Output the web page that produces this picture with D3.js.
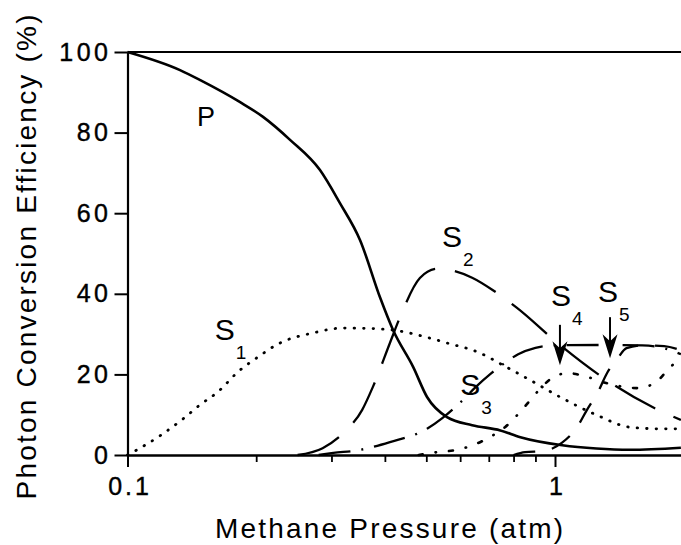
<!DOCTYPE html>
<html>
<head>
<meta charset="utf-8">
<script src="https://cdn.jsdelivr.net/npm/d3@7"></script>
<style>
  body { margin: 0; background: #fff; }
  svg text { font-family: "Liberation Sans", Arial, sans-serif; fill: #000; }
</style>
</head>
<body>
<div id="chart"></div>
<script>
// pressure (atm) / efficiency (%)
const pP  = [0.1, 0.1327, 0.148, 0.183, 0.2075, 0.24, 0.282, 0.314, 0.35, 0.39, 0.418, 0.466, 0.502, 0.559, 0.64, 0.745, 0.83, 1.04, 1.25, 1.5, 1.97];
const vP  = [100, 95.5, 93, 87.6, 83.9, 78.2, 70.7, 62.5, 53.3, 39, 31, 21.8, 14.4, 9.4, 7.4, 6.1, 4.4, 2.4, 1.6, 1.3, 1.8];

const pS1 = [0.1, 0.107, 0.12, 0.135, 0.148, 0.162, 0.183, 0.2, 0.2274, 0.272, 0.319, 0.37, 0.418, 0.51, 0.559, 0.668, 0.755, 0.874, 1.027, 1.253, 1.496, 1.76, 1.97];
const vS1 = [0, 1.7, 5, 9, 12.5, 15.5, 21, 24, 27.8, 30.3, 31.5, 31.4, 31, 29, 27.8, 25.3, 22.3, 18.6, 14.4, 9.9, 6.9, 6.5, 6.5];

const pS2 = [0.25, 0.286, 0.32, 0.354, 0.375, 0.411, 0.434, 0.483, 0.53, 0.568, 0.64, 0.716, 0.815, 1.027, 1.32, 1.69, 1.97];
const vS2 = [0, 1.7, 5.5, 11.2, 16.9, 27.8, 34.2, 43.9, 46.2, 45.9, 44, 40.9, 36.5, 27.3, 18.6, 11.9, 8.7];

const pS3 = [0.28, 0.303, 0.347, 0.411, 0.502, 0.546, 0.6, 0.653, 0.71, 0.764, 0.82, 0.9, 1.0, 1.3, 1.6, 1.8, 1.97];
const vS3 = [0, 0.5, 1.2, 3.2, 6.5, 9.2, 13, 16.9, 20.3, 22.9, 25, 26.6, 27.2, 27.3, 27.2, 26.5, 25];

const pS4 = [0.48, 0.53, 0.583, 0.645, 0.705, 0.764, 0.837, 0.908, 0.984, 1.072, 1.188, 1.294, 1.45, 1.555, 1.714, 1.86, 1.97];
const vS4 = [0, 0.7, 1.2, 2.5, 4.5, 6.9, 11.2, 15.6, 19.1, 20.3, 19.4, 18.1, 16.9, 16.6, 17.9, 21.8, 24];

const pS5 = [0.8, 0.851, 0.94, 1.037, 1.126, 1.188, 1.26, 1.323, 1.403, 1.47, 1.6, 1.8, 1.97];
const vS5 = [0, 0.7, 1, 3, 6.9, 11.2, 15.6, 20.3, 24.1, 26.5, 27.2, 27, 26];

const yTicks = [0, 20, 40, 60, 80, 100];
const xMajor = [0.1, 1];
const xMinor = [0.2, 0.3, 0.4, 0.5, 0.6, 0.7, 0.8, 0.9];

// curve labels: [name, subscript, pressure, value]
const labels = [
  ["P", "", 0.1455, 81.6],
  ["S", "1", 0.160, 28.5],
  ["S", "2", 0.544, 51.6],
  ["S", "3", 0.600, 14.9],
  ["S", "4", 0.979, 37],
  ["S", "5", 1.26, 38]
];
// arrows for S4 and S5: [pressure, from value, to value]
const arrows = [
  [1.027, 32.3, 22.3],
  [1.345, 34.2, 24]
];

const width = 681, height = 545;
const svg = d3.select("#chart").append("svg")
  .attr("width", width)
  .attr("height", height);

const x = d3.scaleLog().domain([0.1, 2]).range([127.5, 127.5 + 427.5 * Math.log10(20)]);
const y = d3.scaleLinear().domain([0, 100]).range([455, 52]);

// top border line at 100%
svg.append("line")
  .attr("x1", x(0.1)).attr("x2", width)
  .attr("y1", y(100)).attr("y2", y(100))
  .attr("stroke", "#000").attr("stroke-width", 2.2);

// y axis
const yAxis = svg.append("g")
  .attr("transform", `translate(${x(0.1)},0)`)
  .call(d3.axisLeft(y).tickValues(yTicks).tickSize(13).tickSizeOuter(0).tickPadding(3));
yAxis.select(".domain").attr("stroke-width", 2.2);
yAxis.selectAll(".tick line").attr("stroke-width", 2);
yAxis.selectAll(".tick text")
  .attr("font-size", 25).attr("letter-spacing", 3.5).attr("fill", "#000")
  .attr("stroke", "#000").attr("stroke-width", 0.4)
  .attr("font-family", "Liberation Sans, Arial, sans-serif");

// x axis, minor ticks
const xMin = svg.append("g")
  .attr("transform", `translate(0,${y(0)})`)
  .call(d3.axisBottom(x).tickValues(xMinor).tickSize(7).tickSizeOuter(0).tickFormat(""));
xMin.select(".domain").attr("stroke-width", 2.4);
xMin.selectAll(".tick line").attr("stroke-width", 1.8);

// x axis, major ticks
const xMaj = svg.append("g")
  .attr("transform", `translate(0,${y(0)})`)
  .call(d3.axisBottom(x).tickValues(xMajor).tickSize(12).tickSizeOuter(0).tickPadding(10)
    .tickFormat(d => d === 1 ? "1" : "0.1"));
xMaj.select(".domain").remove();
xMaj.selectAll(".tick line").attr("stroke-width", 2);
xMaj.selectAll(".tick text")
  .attr("font-size", 25).attr("letter-spacing", 3).attr("fill", "#000")
  .attr("stroke", "#000").attr("stroke-width", 0.4)
  .attr("font-family", "Liberation Sans, Arial, sans-serif")
  .attr("dx", 2);

// axis titles
svg.append("text")
  .attr("x", 389).attr("y", 538)
  .attr("text-anchor", "middle")
  .attr("font-size", 28)
  .attr("textLength", 348).attr("lengthAdjust", "spacing")
  .text("Methane Pressure (atm)");

svg.append("text")
  .attr("transform", "translate(36,257) rotate(-90)")
  .attr("text-anchor", "middle")
  .attr("font-size", 28)
  .attr("textLength", 485).attr("lengthAdjust", "spacing")
  .text("Photon Conversion Efficiency (%)");

// curves
const line = d3.line()
  .x(d => x(d[0]))
  .y(d => y(d[1]))
  .curve(d3.curveMonotoneX);

const series = [
  { p: pP,  v: vP,  w: 2.6, dash: null,          cap: "butt" },
  { p: pS1, v: vS1, w: 2.8, dash: "0.5,9",       cap: "round" },
  { p: pS2, v: vS2, w: 2.3, dash: "46,20",       cap: "butt" },
  { p: pS3, v: vS3, w: 2.3, dash: "32,11,2,11",  cap: "butt" },
  { p: pS4, v: vS4, w: 2.6, dash: "4,13,0.5,13", cap: "round" },
  { p: pS5, v: vS5, w: 2.3, dash: "22,17",       cap: "butt" }
];

const plot = svg.append("g");
series.forEach(s => {
  plot.append("path")
    .datum(s.p.map((p, i) => [p, s.v[i]]))
    .attr("d", line)
    .attr("fill", "none")
    .attr("stroke", "#000")
    .attr("stroke-width", s.w)
    .attr("stroke-linecap", s.cap)
    .attr("stroke-dasharray", s.dash);
});

// arrows
arrows.forEach(a => {
  const ax = x(a[0]), y0 = y(a[1]), y1 = y(a[2]);
  plot.append("line")
    .attr("x1", ax).attr("x2", ax)
    .attr("y1", y0).attr("y2", y1 - 10)
    .attr("stroke", "#000").attr("stroke-width", 2);
  plot.append("path")
    .attr("d", `M${ax},${y1} L${ax - 7.5},${y1 - 24} L${ax},${y1 - 17} L${ax + 7.5},${y1 - 24} Z`)
    .attr("fill", "#000");
});

// curve labels
labels.forEach(l => {
  const t = svg.append("text")
    .attr("x", x(l[2])).attr("y", y(l[3]))
    .attr("font-size", l[0] === "P" ? 27 : 30)
    .text(l[0]);
  if (l[1]) {
    t.append("tspan")
      .attr("dx", 1).attr("dy", 19)
      .attr("font-size", 19)
      .text(l[1]);
  }
});
</script>
</body>
</html>
